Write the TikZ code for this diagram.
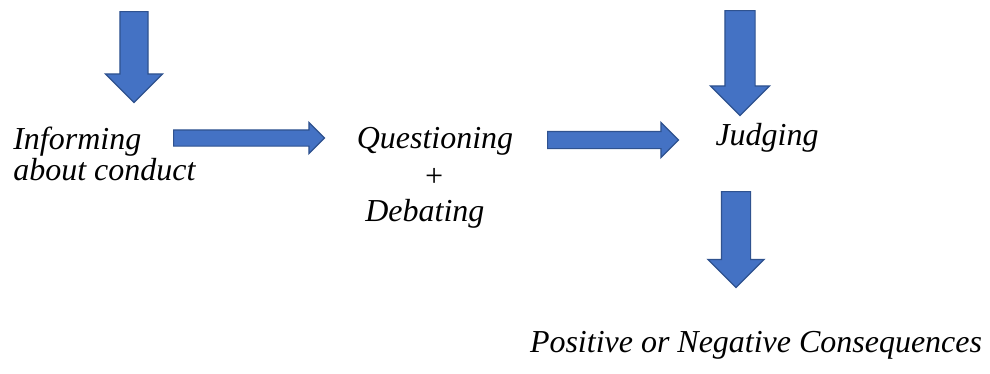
\documentclass[tikz,border=0pt]{standalone}
\usepackage{fontspec}
\setmainfont{Liberation Serif}
\usepackage{tikz}
\usetikzlibrary{shapes.arrows,positioning}
\definecolor{arrowfill}{HTML}{4472C4}
\definecolor{arrowedge}{HTML}{2F528F}
\tikzset{
    blockarrow/.style={single arrow, draw=arrowedge, fill=arrowfill, line width=0.7pt,
        single arrow tip angle=90, inner xsep=0pt, anchor=tail},
    steptext/.style={font=\fontsize{18.2}{21.8}\selectfont\itshape, inner sep=0pt}
}
\begin{document}
\begin{tikzpicture}[x=0.02cm, y=-0.02cm]
    \useasboundingbox (0,0) rectangle (990,373);

    % Informing block
    \node[steptext, anchor=base west] (inform) at (13,149) {Informing};
    \node[steptext, anchor=base west] (conduct) at (13,180) {about conduct};

    % Questioning + Debating block
    \node[steptext, anchor=base] (quest) at (435,148) {Questioning};
    \node[steptext, anchor=base] (plus) at (434,186) {+};
    \node[steptext, anchor=base west] (debate) at (365,221) {Debating};

    % Judging block
    \node[steptext, anchor=base] (judge) at (767,145) {Judging};

    % Consequences
    \node[steptext, anchor=base] (conseq) at (756,352) {Positive or Negative Consequences};

    % Block arrows
    \node[blockarrow, rotate=-90, minimum height=1.82cm, inner ysep=0.27cm,
          single arrow head extend=0.29cm] (inarrow) at (134,11) {};
    \node[blockarrow, minimum height=3.02cm, inner ysep=0.15cm,
          single arrow head extend=0.15cm] (informarrow) at (173,138) {};
    \node[blockarrow, minimum height=2.62cm, inner ysep=0.16cm,
          single arrow head extend=0.18cm] (questarrow) at (547,140) {};
    \node[blockarrow, rotate=-90, minimum height=2.10cm, inner ysep=0.29cm,
          single arrow head extend=0.29cm] (judgein) at (740,10) {};
    \node[blockarrow, rotate=-90, minimum height=1.92cm, inner ysep=0.28cm,
          single arrow head extend=0.27cm] (judgeout) at (736,191) {};
\end{tikzpicture}
\end{document}
